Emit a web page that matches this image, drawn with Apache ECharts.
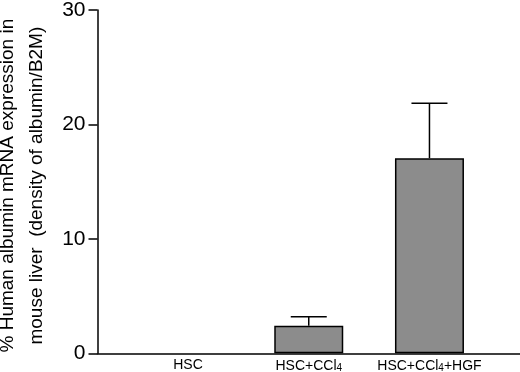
<!DOCTYPE html>
<html>
<head>
<meta charset="utf-8">
<script src="https://cdn.jsdelivr.net/npm/echarts@6/dist/echarts.min.js"></script>
<style>
  html, body { margin: 0; padding: 0; background: #fff; }
  #chart { width: 520px; height: 372px; }
</style>
</head>
<body>
<div id="chart"></div>
<script>
// groups on the x axis, in order
const categories = ['HSC', 'HSC+CCl4', 'HSC+CCl4+HGF'];
// mean % human albumin expression
const means = [0, 2.4, 17.05];
// upper error (SEM)
const errors = [0, 0.8, 4.8];
const yTicks = [0, 10, 20, 30];

const FONT = 'Liberation Sans, Arial, Helvetica, sans-serif';

const chart = echarts.init(document.getElementById('chart'));

// zero-height bar: no outline, so nothing shows on the axis
const barData = means.map((v, i) => ({
  value: [i + 1, v],
  itemStyle: v === 0 ? { borderWidth: 0 } : undefined
}));
const errData = means.map((v, i) => [i + 1, v, errors[i]]);

// turn CCl4 into rich text with a subscript 4
function labelOf(name) {
  return name.split('CCl4').map(p => p ? '{n|' + p + '}' : '').join('{n|CCl}{s|4}');
}

chart.setOption({
  animation: false,
  grid: { left: 97.5, right: 0, top: 10, bottom: 18.7, outerBoundsMode: 'none', containLabel: false },
  xAxis: {
    type: 'value',
    min: 0.25,
    max: 3.75,
    splitLine: { show: false },
    axisTick: { show: false },
    axisLine: { lineStyle: { color: '#000', width: 1.5 } },
    axisLabel: {
      customValues: [1, 2, 3],
      margin: 5,
      formatter: v => labelOf(categories[Math.round(v) - 1] || ''),
      rich: {
        n: { fontFamily: FONT, fontSize: 14, color: '#000' },
        s: { fontFamily: FONT, fontSize: 10, color: '#000', verticalAlign: 'bottom', padding: [5, 0, 0, 0] }
      }
    }
  },
  yAxis: {
    type: 'value',
    min: yTicks[0],
    max: yTicks[yTicks.length - 1],
    interval: 10,
    splitLine: { show: false },
    axisLine: { show: true, lineStyle: { color: '#000', width: 1.5 } },
    axisTick: { show: true, inside: false, length: 9, lineStyle: { color: '#000', width: 1.5 } },
    axisLabel: { color: '#000', fontFamily: FONT, fontSize: 21, margin: 12 },
    name: '% Human albumin mRNA expression in\nmouse liver  (density of albumin/B2M)',
    nameLocation: 'middle',
    nameRotate: 90,
    nameGap: 37,
    nameTextStyle: { color: '#000', fontFamily: FONT, fontSize: 19, lineHeight: 29, padding: [0, 8, 0, 0] }
  },
  series: [
    {
      type: 'bar',
      data: barData,
      barWidth: 69,
      itemStyle: { color: '#8c8c8c', borderColor: '#000', borderWidth: 1.5 },
      z: 2
    },
    {
      type: 'custom',
      data: errData,
      z: 1,
      renderItem: function (params, api) {
        const x = api.value(0), y = api.value(1), e = api.value(2);
        if (!e) return null;
        const p0 = api.coord([x, y]);
        const p1 = api.coord([x, y + e]);
        const style = { stroke: '#000', lineWidth: 1.5 };
        return {
          type: 'group',
          children: [
            { type: 'line', shape: { x1: p0[0], y1: p0[1], x2: p1[0], y2: p1[1] }, style },
            { type: 'line', shape: { x1: p1[0] - 18, y1: p1[1], x2: p1[0] + 18, y2: p1[1] }, style }
          ]
        };
      }
    }
  ]
});
</script>
</body>
</html>
